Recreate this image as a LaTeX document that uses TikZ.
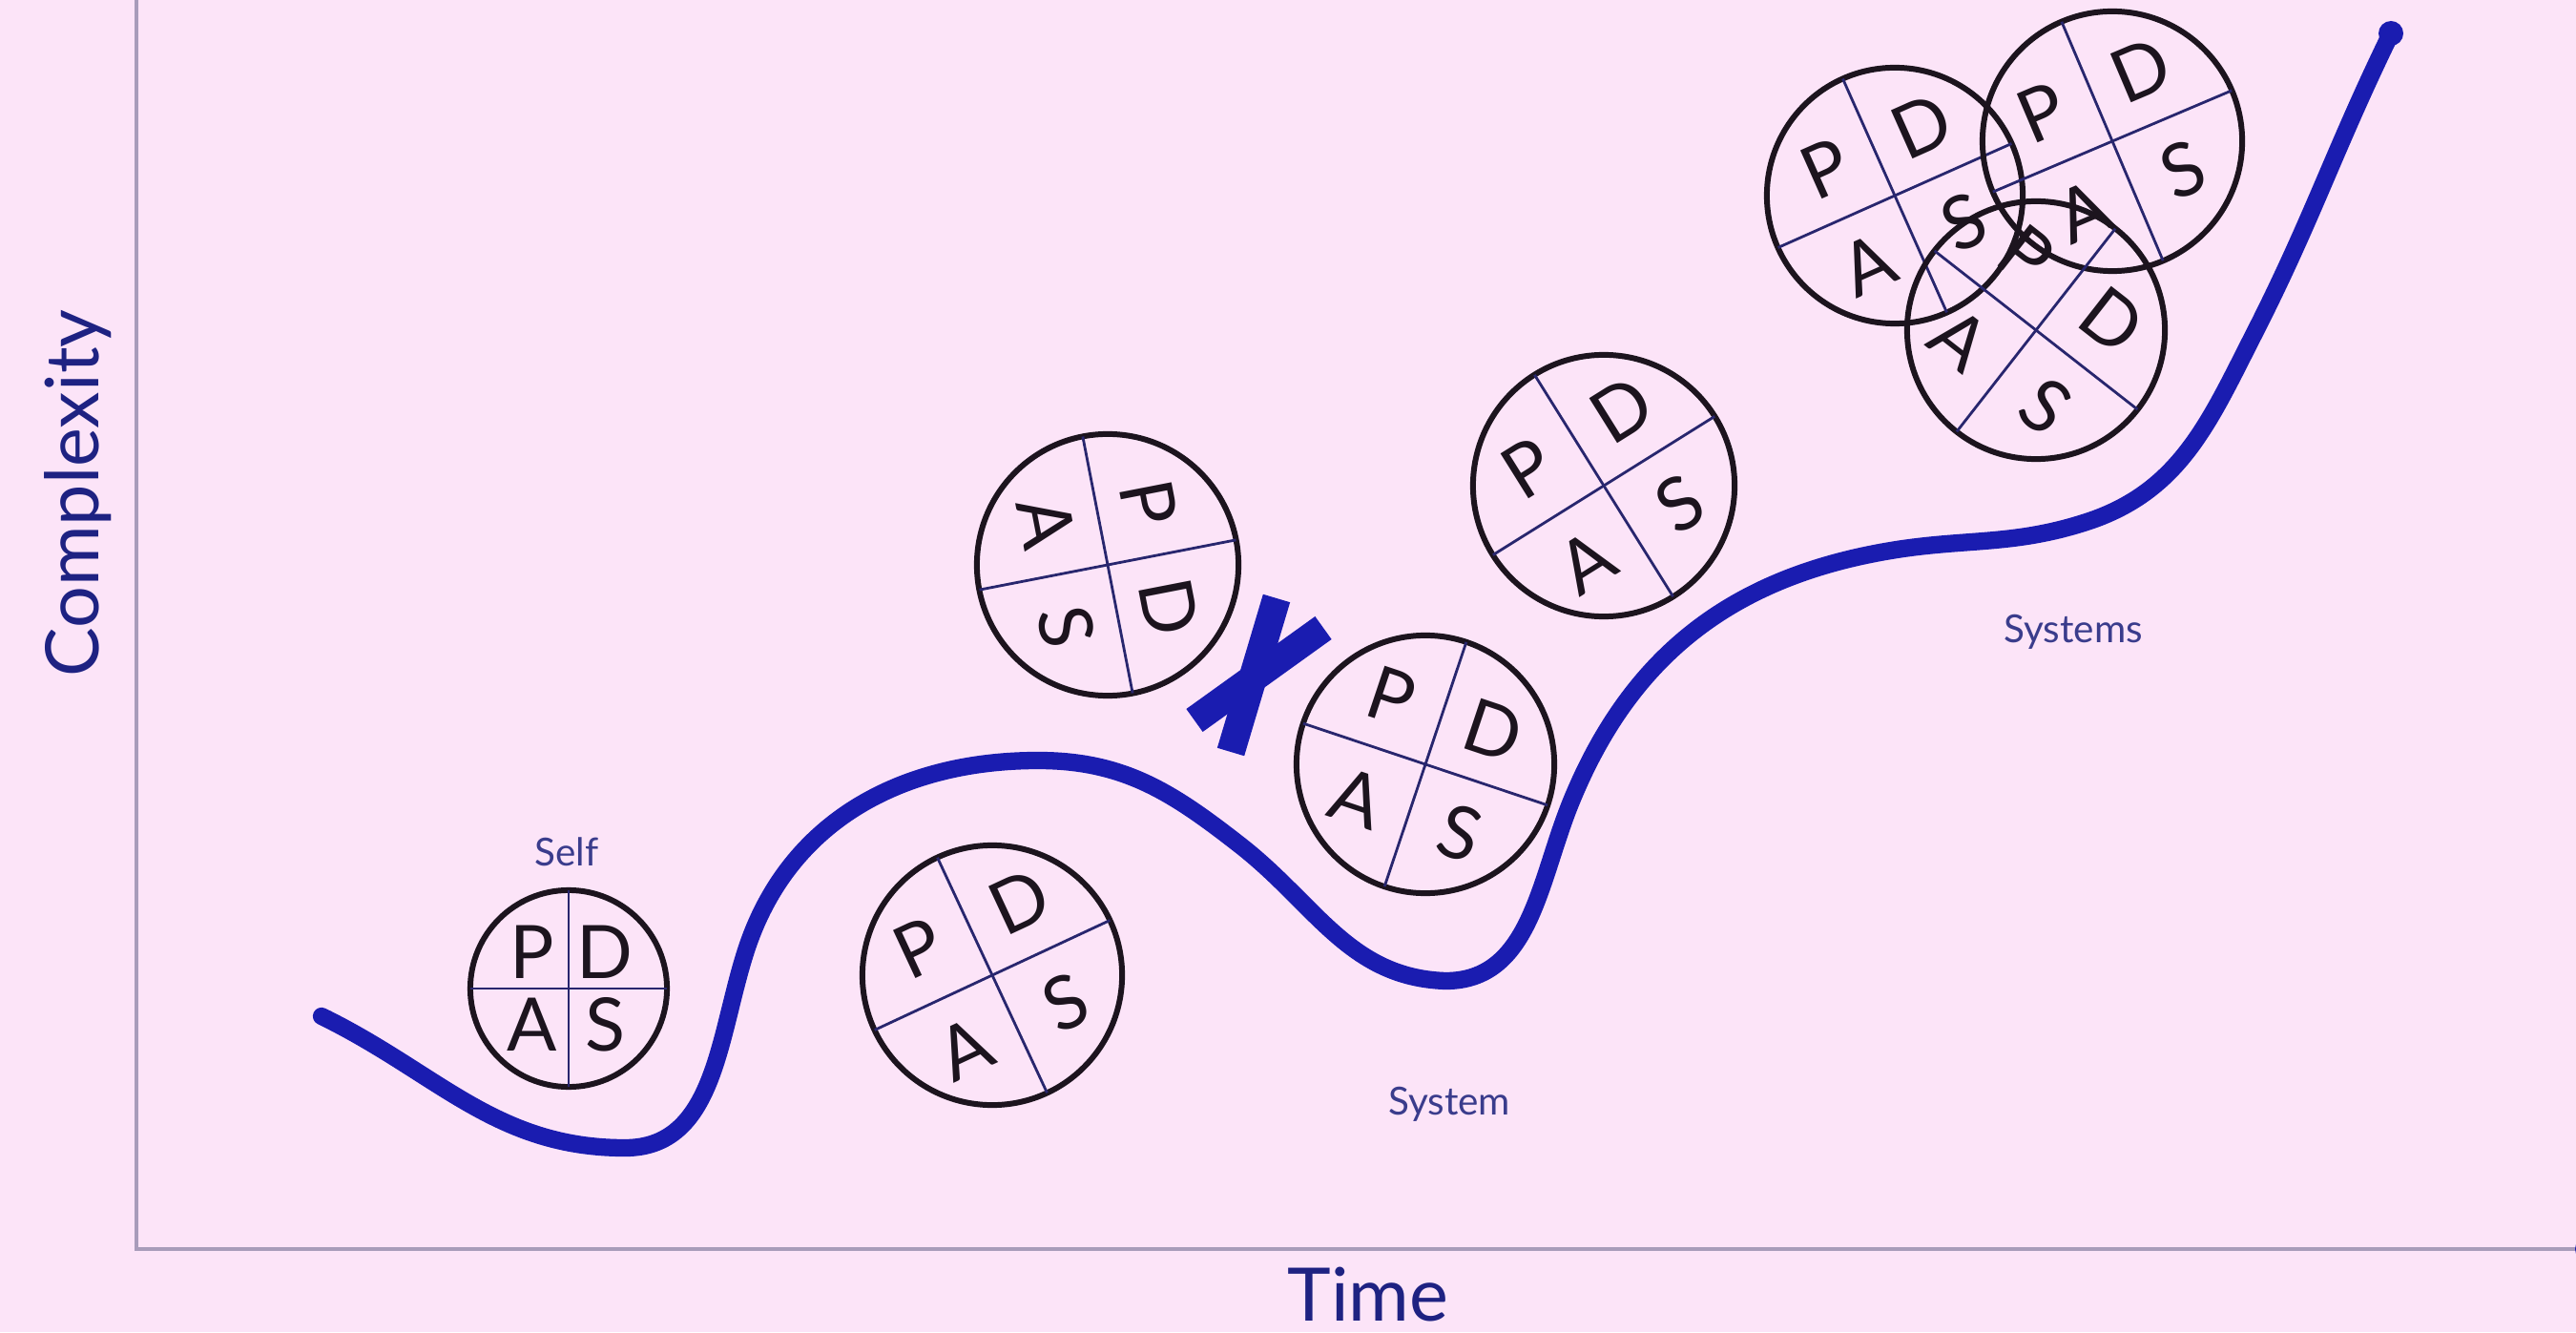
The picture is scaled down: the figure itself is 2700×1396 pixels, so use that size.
\documentclass[tikz,border=0pt]{standalone}
\usepackage{fontspec}
\setmainfont{Lato}
\usetikzlibrary{calc}

\definecolor{paper}{RGB}{252,228,248}
\definecolor{curveblue}{RGB}{26,28,176}
\definecolor{axisgray}{RGB}{168,156,186}
\definecolor{axisink}{RGB}{30,34,130}
\definecolor{labelink}{RGB}{58,60,140}
\definecolor{ringink}{RGB}{28,20,30}
\definecolor{crossink}{RGB}{40,38,110}

\tikzset{
  ring/.style={circle, draw=ringink, line width=1.7pt, inner sep=0pt, outer sep=0pt},
  quarter/.style={draw=crossink, line width=0.8pt},
  pdaletter/.style={inner sep=0pt, text=ringink, font=\fontsize{22}{26}\selectfont},
  axisline/.style={draw=axisgray, line width=1.4pt},
  axislabel/.style={text=axisink, font=\fontsize{22}{26}\selectfont, inner sep=0pt},
  stagelabel/.style={text=labelink, font=\fontsize{11.5}{14}\selectfont, inner sep=0pt},
  growth/.style={draw=curveblue, line width=5.2pt, line cap=round, line join=round},
  crossmark/.style={draw=curveblue, line width=8.4pt},
}

% A Plan-Do-Study-Act wheel: name, x, y, radius, turn angle, letter distance
\newcommand\pdasring[6]{%
  \node[ring, minimum size=#4*0.02cm] (#1) at (#2,#3) {};
  \draw[quarter] ([shift={({#5}:#4)}]#1.center) -- ([shift={({#5+180}:#4)}]#1.center);
  \draw[quarter] ([shift={({#5+90}:#4)}]#1.center) -- ([shift={({#5+270}:#4)}]#1.center);
  \node[pdaletter, rotate=#5] (#1P) at ([shift={({#5+135}:#6)}]#1.center) {P};
  \node[pdaletter, rotate=#5] (#1D) at ([shift={({#5+45}:#6)}]#1.center) {D};
  \node[pdaletter, rotate=#5] (#1S) at ([shift={({#5-45}:#6)}]#1.center) {S};
  \node[pdaletter, rotate=#5] (#1A) at ([shift={({#5+225}:#6)}]#1.center) {A};
}

\begin{document}
\begin{tikzpicture}[x=0.01cm, y=0.01cm]
  % canvas
  \fill[paper] (0,0) rectangle (2700,1396);
  \useasboundingbox (0,0) rectangle (2700,1396);

  % axes
  \coordinate (ytop) at (143,1396);
  \coordinate (origin) at (143,87);
  \coordinate (xend) at (2700,87);
  \draw[axisline] (ytop) -- (origin) -- (xend);
  \fill[curveblue] (2712,87) circle (13);

  \node[axislabel, rotate=90] (ylab) at (82,879) {Complexity};
  \node[axislabel, anchor=base] (xlab) at (1434,12) {Time};

  % growth curve: dip, rise, dip, rise, plateau, steep climb
  \coordinate (cstart) at (337,331);
  \coordinate (low1) at (655,193);
  \coordinate (rise1) at (782,400);
  \coordinate (top1) at (1088,599);
  \coordinate (fall1) at (1300,510);
  \coordinate (low2) at (1515,368);
  \coordinate (rise2) at (1646,554);
  \coordinate (flat1) at (1976,818);
  \coordinate (flat2) at (2187,849);
  \coordinate (rise3) at (2362,1045);
  \coordinate (cend) at (2506,1361);
  \draw[growth] (cstart) to[out=-26,in=180] (low1)
    to[out=0,in=-108] (rise1)
    to[out=72,in=180] (top1)
    to[out=0,in=142] (fall1)
    to[out=-38,in=178] (low2)
    to[out=0,in=-112] (rise2)
    to[out=68,in=-170] (flat1)
    to[out=10,in=-162] (flat2)
    to[out=18,in=-117] (rise3)
    to[out=63,in=-116] (cend);
  \fill[curveblue] (cend) circle (13);

  % stage labels
  \node[stagelabel] (self) at (594,503) {Self};
  \node[stagelabel] (system) at (1519,239) {System};
  \node[stagelabel] (systems) at (2173,734) {Systems};

  % PDSA wheels
  \pdasring{w1}{596}{360}{103}{0}{54}
  \pdasring{w2}{1040}{374}{136}{25}{82}
  \pdasring{w3}{1161}{804}{137}{-79}{78}
  \pdasring{w4}{1494}{595}{135}{-18.5}{80}
  \pdasring{w5}{1681}{887}{137}{32}{82}
  \pdasring{w6}{1986}{1191}{134}{24}{78}
  \pdasring{w7}{2214}{1248}{136}{23}{80}
  \pdasring{w8}{2134}{1050}{135}{-38}{80}

  % broken link between the two wheels
  \draw[crossmark] (1338,769) -- (1290,608);
  \draw[crossmark] (1252,641) -- (1387,738);
\end{tikzpicture}
\end{document}
